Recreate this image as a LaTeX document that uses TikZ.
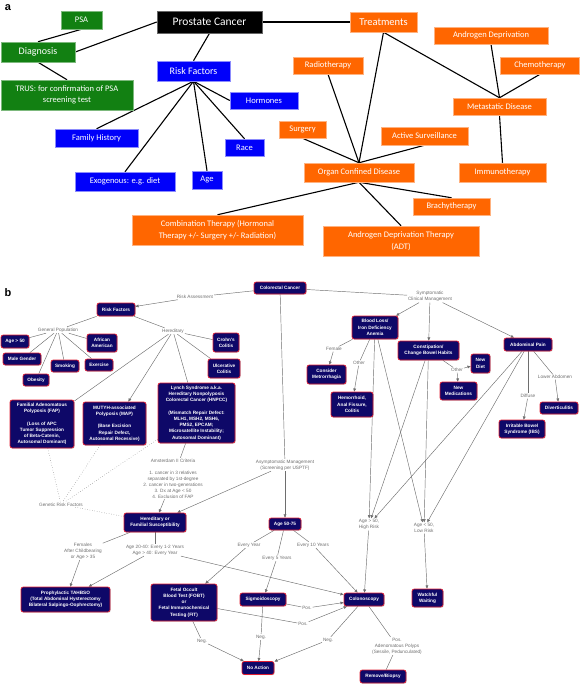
\documentclass[tikz,border=0pt]{standalone}
\usepackage{fontspec}
\setmainfont{Carlito}
\newfontfamily\hv{Liberation Sans}
\usetikzlibrary{arrows.meta,shadows}
\pgfdeclarelayer{bg}
\pgfsetlayers{bg,main}
\definecolor{pgreen}{RGB}{18,128,18}
\definecolor{pblue}{RGB}{0,0,250}
\definecolor{porange}{RGB}{255,102,0}
\definecolor{bnavy}{RGB}{14,8,104}
\definecolor{bred}{RGB}{225,30,50}
\definecolor{bgray}{RGB}{110,110,110}

\begin{document}
\begin{tikzpicture}[x=1pt, y=-1pt,
  pa/.style={inner sep=0pt, align=center, text=white, line width=0.5pt, font=\fontsize{8.5}{11.5}\selectfont},
  grn/.style={pa, fill=pgreen, draw=pgreen!55!white},
  blu/.style={pa, fill=pblue, draw=pblue!45!white},
  org/.style={pa, fill=porange, draw=porange!50!white},
  blk/.style={pa, fill=black, draw=black!60!white, font=\fontsize{11.5}{13}\selectfont},
  al/.style={line width=1.1pt},
  bbox/.style={rounded corners=2.2pt, fill=bnavy, draw=bred, line width=0.7pt, text=white, inner sep=0pt, align=center,
    font=\hv\bfseries\fontsize{4.7}{6.2}\selectfont, drop shadow={shadow xshift=0.7pt, shadow yshift=-0.7pt, opacity=0.35}},
  lbl/.style={text=bgray, inner sep=0.8pt, align=center, font=\hv\fontsize{4.7}{6}\selectfont},
  ln/.style={draw=bgray, line width=0.45pt},
  arr/.style={ln, -{Triangle[length=3.2pt, width=2.8pt]}},
  panel/.style={font=\hv\bfseries\fontsize{11}{11}\selectfont, inner sep=0pt}]
\useasboundingbox (0,0) rectangle (580,685);

% panel a
\node[panel] (la) at (8,8) {a};
\node[grn, minimum width=41, minimum height=18] (psa) at (81.5,20) {PSA};
\node[grn, minimum width=74, minimum height=20, font=\fontsize{10}{12}\selectfont] (diag) at (38,52) {Diagnosis};
\node[grn, minimum width=132, minimum height=30] (trus) at (67,95) {TRUS: for confirmation of PSA\\screening test};
\node[blk, minimum width=105, minimum height=22] (pc) at (209.5,22) {Prostate Cancer};
\node[blu, minimum width=73, minimum height=20, font=\fontsize{10}{12}\selectfont] (rfa) at (193.5,71) {Risk Factors};
\node[blu, minimum width=68, minimum height=17] (horm) at (264,100.5) {Hormones};
\node[blu, minimum width=83, minimum height=18] (famh) at (96.5,138) {Family History};
\node[blu, minimum width=39, minimum height=17] (race) at (244.5,147.5) {Race};
\node[blu, minimum width=100, minimum height=19] (exo) at (125,181.5) {Exogenous: e.g. diet};
\node[blu, minimum width=30, minimum height=18] (agea) at (207,180) {Age};
\node[org, minimum width=171, minimum height=30] (comb) at (217.5,230) {Combination Therapy (Hormonal\\Therapy +/- Surgery +/- Radiation)};
\node[org, minimum width=67, minimum height=20, font=\fontsize{10.5}{12}\selectfont] (treat) at (383.5,22) {Treatments};
\node[org, minimum width=114, minimum height=17] (andr) at (491,35.5) {Androgen Deprivation};
\node[org, minimum width=70, minimum height=17] (radio) at (328,65.5) {Radiotherapy};
\node[org, minimum width=79, minimum height=17] (chemo) at (540,65.5) {Chemotherapy};
\node[org, minimum width=93, minimum height=17] (meta) at (499.5,106.5) {Metastatic Disease};
\node[org, minimum width=47, minimum height=17] (surg) at (302.5,129.5) {Surgery};
\node[org, minimum width=87, minimum height=18] (actv) at (424.5,136) {Active Surveillance};
\node[org, minimum width=110, minimum height=19] (organ) at (359,172.5) {Organ Confined Disease};
\node[org, minimum width=87, minimum height=19] (immu) at (502.5,172.5) {Immunotherapy};
\node[org, minimum width=77, minimum height=17] (brachy) at (451.5,206.5) {Brachytherapy};
\node[org, minimum width=156, minimum height=30] (adt) at (401,241) {Androgen Deprivation Therapy\\(ADT)};

\begin{pgfonlayer}{bg}
  \draw[al] (psa.south) -- (diag.north);
  \draw[al] (diag.east) -- (pc.west);
  \draw[al] (diag.south) -- (trus.north);
  \draw[al] (pc.south) -- (rfa.north);
  \draw[al] (pc.east) -- (treat.west);
  \foreach \n in {famh, race, exo, agea}
    \draw[al] (rfa.south) -- (\n.north);
  \draw[al] (rfa.south) -- (horm.west);
  \draw[al] (treat.south) -- (organ.north);
  \draw[al] (treat.south) -- (meta.north);
  \draw[al] (andr.south) -- (meta.north);
  \draw[al] (chemo.south) -- (meta.north);
  \draw[al] (meta.south) -- (immu.north);
  \foreach \n in {radio, surg, actv}
    \draw[al] (\n.south) -- (organ.north);
  \foreach \n in {comb, adt, brachy}
    \draw[al] (organ.south) -- (\n.north);
\end{pgfonlayer}

% panel b
\node[panel] (lb) at (8,293) {b};
\node[bbox, minimum width=52, minimum height=12] (cc) at (280,288) {Colorectal Cancer};
\node[bbox, minimum width=38, minimum height=13] (rf) at (116,309.5) {Risk Factors};
\node[bbox, minimum width=28, minimum height=13] (age50) at (15,341.5) {Age > 50};
\node[bbox, minimum width=38, minimum height=12] (male) at (22,359) {Male Gender};
\node[bbox, minimum width=28, minimum height=12] (smoke) at (65,366) {Smoking};
\node[bbox, minimum width=26, minimum height=12] (obes) at (36,380) {Obesity};
\node[bbox, minimum width=30, minimum height=18] (afam) at (102,343) {African\\American};
\node[bbox, minimum width=28, minimum height=12] (exer) at (99,365) {Exercise};
\node[bbox, minimum width=26, minimum height=19] (crohn) at (226,342.5) {Crohn's\\Colitis};
\node[bbox, minimum width=32, minimum height=19] (uc) at (224,368.5) {Ulcerative\\Colitis};
\node[bbox, minimum width=64, minimum height=48] (fap) at (42,424) {Familial Adenomatous\\Polyposis (FAP)\\[6.2pt](Loss of APC\\Tumor Suppression\\of Beta-Catenin,\\Autosomal Dominant)};
\node[bbox, minimum width=63, minimum height=43] (map) at (114.5,423.5) {MUTYH-associated\\Polyposis (MAP)\\[6.2pt](Base Excision\\Repair Defect,\\Autosomal Recessive)};
\node[bbox, minimum width=77, minimum height=60] (lynch) at (196.5,413) {Lynch Syndrome a.k.a.\\Hereditary Nonpolyposis\\Colorectal Cancer (HNPCC)\\[6.2pt](Mismatch Repair Defect:\\MLH1, MSH2, MSH6,\\PMS2, EPCAM;\\Microsatellite Instability;\\Autosomal Dominant)};
\node[bbox, minimum width=62, minimum height=19] (her) at (155,522.5) {Hereditary or\\Familial Susceptibility};
\node[bbox, minimum width=32, minimum height=12] (a5075) at (285,524) {Age 50-75};
\node[bbox, minimum width=89, minimum height=25] (tah) at (65.5,599.5) {Prophylactic TAHBSO\\(Total Abdominal Hysterectomy\\Bilateral Salpingo-Oophrectomy)};
\node[bbox, minimum width=66, minimum height=37] (fobt) at (184,602.5) {Fetal Occult\\Blood Test (FOBT)\\or\\Fetal Immunochemical\\Testing (FIT)};
\node[bbox, minimum width=46, minimum height=13] (sig) at (263,599.5) {Sigmoidoscopy};
\node[bbox, minimum width=40, minimum height=13] (colo) at (364,599.5) {Colonoscopy};
\node[bbox, minimum width=31, minimum height=18] (ww) at (427.5,598) {Watchful\\Waiting};
\node[bbox, minimum width=32, minimum height=13] (noact) at (258,668) {No Action};
\node[bbox, minimum width=46, minimum height=13] (rb) at (383,676.5) {Remove/Biopsy};
\node[bbox, minimum width=46, minimum height=23] (bl) at (375,327.5) {Blood Loss/\\Iron Deficiency\\Anemia};
\node[bbox, minimum width=61, minimum height=19] (cons) at (428.5,350.5) {Constipation/\\Change Bowel Habits};
\node[bbox, minimum width=48, minimum height=13] (ap) at (528,344.5) {Abdominal Pain};
\node[bbox, minimum width=39, minimum height=19] (metr) at (326.5,374.5) {Consider\\Metrorrhagia};
\node[bbox, minimum width=42, minimum height=25] (hem) at (352,404.5) {Hemorrhoid,\\Anal Fissure,\\Colitis};
\node[bbox, minimum width=19, minimum height=19] (diet) at (480.5,363.5) {New\\Diet};
\node[bbox, minimum width=37, minimum height=18] (meds) at (458.5,391) {New\\Medications};
\node[bbox, minimum width=38, minimum height=12] (div) at (559,408) {Diverticulitis};
\node[bbox, minimum width=46, minimum height=18] (ibs) at (522,429) {Irritable Bowel\\Syndrome (IBS)};

% edge labels
\node[lbl] (ra) at (195,297) {Risk Assessment};
\node[lbl] (sym) at (430,296.5) {Symptomatic\\Clinical Management};
\node[lbl] (gp) at (58,330) {General Population};
\node[lbl] (hered) at (173,331) {Hereditary};
\node[lbl] (ams) at (173,478.5) {Amsterdam II Criteria\\[6pt]1. cancer in 3 relatives\\separated by 1st-degree\\2. cancer in two-generations\\3. Dx at Age < 50\\4. Exclusion of FAP};
\node[lbl] (grf) at (61,504.5) {Genetic Risk Factors};
\node[lbl] (asym) at (285,465) {Asymptomatic Management\\(Screening per USPTF)};
\node[lbl] (fem) at (83,551) {Females\\After Childbearing\\or Age > 35};
\node[lbl] (agel) at (155,550) {Age 20-40: Every 1-2 Years\\Age > 40: Every Year};
\node[lbl] (ey) at (249,545) {Every Year};
\node[lbl] (e5) at (277,558) {Every 5 Years};
\node[lbl] (e10) at (313,545) {Every 10 Years};
\node[lbl] (hr) at (369,524.5) {Age > 50,\\High Risk};
\node[lbl] (lr) at (424,528) {Age < 50,\\Low Risk};
\node[lbl] (fem2) at (334,349) {Female};
\node[lbl] (oth1) at (359,363) {Other};
\node[lbl] (oth2) at (457,370) {Other};
\node[lbl] (low) at (555,377) {Lower Abdomen};
\node[lbl] (diff) at (528,396) {Diffuse};
\node[lbl] (pos1) at (307,608) {Pos.};
\node[lbl] (pos2) at (303,624) {Pos.};
\node[lbl] (neg1) at (202,641) {Neg.};
\node[lbl] (neg2) at (261,637) {Neg.};
\node[lbl] (neg3) at (328,640) {Neg.};
\node[lbl] (posad) at (397,646) {Pos.\\Adenomatous Polyps\\(Sessile, Pedunculated)};

\begin{pgfonlayer}{bg}
  \draw[ln] (cc) -- (ra);
  \draw[arr] (ra) -- (rf);
  \draw[ln] (cc) -- (sym);
  \foreach \n in {bl, cons, ap}
    \draw[arr] (sym) -- (\n);
  \draw[ln] (cc) -- (asym);
  \draw[arr] (asym) -- (a5075);
  \draw[arr] (asym) -- (her);
  \draw[ln] (rf) -- (gp);
  \foreach \n in {age50, male, smoke, obes, afam, exer}
    \draw[ln] (gp) -- (\n);
  \draw[ln] (rf) -- (hered);
  \foreach \n in {crohn, uc, lynch, fap}
    \draw[ln] (hered) -- (\n);
  \draw[arr] (hered) -- (map);
  \draw[ln] (lynch) -- (ams);
  \draw[arr] (ams) -- (her);
  \foreach \n in {fap, map, lynch}
    \draw[ln, dotted] (\n) -- (grf);
  \draw[ln, dotted] (grf) -- (her);
  \draw[ln] (her) -- (fem);
  \draw[arr] (fem) -- (tah);
  \draw[ln] (her) -- (agel);
  \draw[arr] (agel) -- (tah);
  \draw[arr] (agel) -- (colo);
  \draw[ln] (a5075) -- (ey);
  \draw[arr] (ey) -- (fobt);
  \draw[ln] (a5075) -- (e5);
  \draw[arr] (e5) -- (sig);
  \draw[ln] (a5075) -- (e10);
  \draw[arr] (e10) -- (colo);
  \draw[ln] (sig) -- (pos1);
  \draw[arr] (pos1) -- (colo);
  \draw[ln] (fobt) -- (pos2);
  \draw[arr] (pos2) -- (colo);
  \draw[ln] (fobt) -- (neg1);
  \draw[arr] (neg1) -- (noact);
  \draw[ln] (sig) -- (neg2);
  \draw[arr] (neg2) -- (noact);
  \draw[ln] (colo) -- (neg3);
  \draw[arr] (neg3) -- (noact);
  \draw[ln] (colo) -- (posad);
  \draw[ln] (posad) -- (rb);
  \draw[ln] (bl) -- (fem2);
  \draw[arr] (fem2) -- (metr);
  \draw[ln] (bl) -- (oth1);
  \draw[arr] (oth1) -- (hem);
  \foreach \n in {bl, cons, ap} {
    \draw[arr] (\n) -- (hr);
    \draw[arr] (\n) -- (lr);
  }
  \draw[arr] (hr) -- (colo);
  \draw[arr] (lr) -- (ww);
  \draw[ln] (cons) -- (oth2);
  \draw[arr] (oth2) -- (diet);
  \draw[arr] (oth2) -- (meds);
  \draw[ln] (ap) -- (low);
  \draw[arr] (low) -- (div);
  \draw[ln] (ap) -- (diff);
  \draw[arr] (diff) -- (ibs);
\end{pgfonlayer}
\end{tikzpicture}
\end{document}
